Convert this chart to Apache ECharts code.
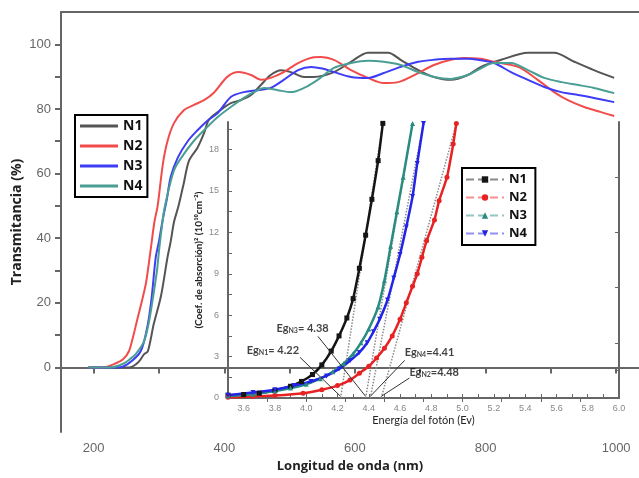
<!DOCTYPE html>
<html>
<head>
<meta charset="utf-8">
<script src="https://cdn.jsdelivr.net/npm/echarts@6/dist/echarts.min.js"></script>
<style>
  html, body { margin: 0; padding: 0; background: #fff; }
  #chart { width: 639px; height: 478px; }
</style>
</head>
<body>
<div id="chart"></div>
<script>
// main plot: transmittance (%) vs wavelength (nm), [nm, %]
const n1Trans = [[192,0],[255,0],[268,1.5],[277,4],[283,5],[292,13.4],[303,22],[313,34],[318,39],[323,45],[330,50],[338,57],[346,64],[359,68],[369,72.5],[376,76.5],[390,79],[410,81.8],[425,82.7],[441,84.3],[456,87.4],[471,90.5],[487,92],[502,91.4],[522,89.9],[537,89.9],[568,91.4],[594,94.6],[620,97.4],[651,97.4],[670,95.2],[697,92],[721,89.9],[747,89],[773,90.5],[793,93],[824,95.2],[865,97.4],[905,97.4],[936,94.6],[966,92],[997,89.6]];
const n2Trans = [[192,0],[215,0],[231,1],[245,2.5],[254,5],[261,10],[267,15],[272,19],[280,26],[287,36],[293,45],[298,50],[306,63],[313,70],[323,75.6],[338,79.6],[353,81.2],[369,82.7],[384,85],[405,90],[422,91.4],[441,90.5],[456,89],[471,89.6],[491,91.4],[513,94.2],[537,96],[548,96.1],[568,95.2],[594,92],[620,89.6],[644,88],[666,88.3],[697,91.1],[721,93.6],[747,95.2],[767,95.8],[793,95.5],[813,94.6],[850,93],[880,89],[905,85.2],[926,82.7],[951,80.6],[977,79],[997,77.8]];
const n3Trans = [[192,0],[238,0],[252,1],[272,5],[283,13.4],[289,22],[295,34],[300,39],[306,46],[312,52],[318,59],[329,65],[344,70],[359,73.4],[375,76.5],[390,78.7],[410,83.7],[430,85.2],[451,85.8],[471,86.5],[491,89],[513,92],[533,93],[550,92.5],[568,91.4],[594,89.9],[620,89.6],[644,91.1],[670,93],[697,94.6],[721,95.2],[747,95.5],[773,95.5],[788,95.2],[813,94.2],[839,91.4],[865,89],[890,86.8],[916,85.2],[942,84.3],[966,83.4],[997,82.1]];
const n4Trans = [[192,0],[226,0],[246,1.2],[257,2.8],[264,4],[277,8],[284,13.4],[290,20.5],[297,30],[300,36],[306,46],[310,50.7],[323,61],[338,66],[353,70],[369,73.4],[390,77.5],[410,80.6],[430,83.4],[445,85.2],[461,86.5],[482,85.8],[502,85.2],[522,86.5],[543,89],[568,92.7],[594,94.2],[620,94.9],[644,94.6],[670,93.6],[697,91.4],[721,89.9],[747,89.3],[773,90.5],[788,92],[813,94.2],[839,94.2],[865,92],[890,89.6],[916,88.3],[942,87.4],[966,86.5],[997,84.9]];

// inset: (absorption coef)^2 vs photon energy (eV), [eV, value]
const n1Abs = [[3.5,0.2],[3.6,0.25],[3.7,0.35],[3.8,0.55],[3.9,0.85],[3.97,1.2],[4.04,1.7],[4.1,2.4],[4.16,3.4],[4.21,4.5],[4.26,5.8],[4.3,7.2],[4.34,9.4],[4.38,11.8],[4.42,14.4],[4.46,17.2],[4.49,19.9]];
const n2Abs = [[3.5,0.05],[3.66,0.1],[3.8,0.18],[3.98,0.35],[4.1,0.6],[4.2,0.9],[4.28,1.3],[4.34,1.8],[4.4,2.3],[4.45,2.9],[4.5,3.6],[4.55,4.5],[4.6,5.7],[4.64,6.9],[4.68,8.1],[4.71,9.0],[4.74,10.2],[4.77,11.4],[4.82,12.9],[4.85,14.3],[4.9,16.0],[4.94,18.4],[4.96,19.9]];
const n3Abs = [[3.5,0.15],[3.66,0.27],[3.8,0.5],[3.9,0.72],[4.0,1.0],[4.09,1.4],[4.17,1.9],[4.24,2.5],[4.3,3.2],[4.35,4.0],[4.4,5.0],[4.46,6.6],[4.5,8.5],[4.54,11.0],[4.58,13.5],[4.62,16.0],[4.68,19.9]];
const n4Abs = [[3.5,0.2],[3.66,0.4],[3.8,0.6],[3.92,0.9],[4.03,1.2],[4.13,1.6],[4.21,2.1],[4.28,2.7],[4.34,3.3],[4.39,4.0],[4.43,4.8],[4.47,5.7],[4.52,7.1],[4.56,8.7],[4.6,10.4],[4.64,12.4],[4.68,14.6],[4.71,17.0],[4.75,19.9]];

// band gaps (tangent intercepts) and where each tangent leaves the top
const egNames = ['N1', 'N2', 'N3', 'N4'];
const egValues = [4.22, 4.48, 4.38, 4.41];
const tangentTopE = [4.49, 4.96, 4.68, 4.75];
const tangentTopY = 19.9;

// tick label lists
const mainXLabels = [200, 400, 600, 800, 1000];
const mainXTicks = [200, 300, 400, 500, 600, 700, 800, 900, 1000];
const mainYLabels = [0, 20, 40, 60, 80, 100];
const mainYTicks = [0, 10, 20, 30, 40, 50, 60, 70, 80, 90, 100];
const insetXLabels = [3.6, 3.8, 4.0, 4.2, 4.4, 4.6, 4.8, 5.0, 5.2, 5.4, 5.6, 5.8, 6.0];
const insetXTicks = [3.5, 3.6, 3.7, 3.8, 3.9, 4.0, 4.1, 4.2, 4.3, 4.4, 4.5, 4.6, 4.7, 4.8, 4.9, 5.0, 5.1, 5.2, 5.3, 5.4, 5.5, 5.6, 5.7, 5.8, 5.9, 6.0];
const insetTopTicks = [3.75, 4.0, 4.25, 4.5, 4.75, 5.0, 5.25, 5.5, 5.75];
const insetYLabels = [0, 3, 6, 9, 12, 15, 18];
const insetYTicks = [0, 1.5, 3, 4.5, 6, 7.5, 9, 10.5, 12, 13.5, 15, 16.5, 18, 19.5];
const insetRightTicks = [2, 4, 8, 12, 16];

// annotation anchors (data units of the inset)
const egLabelAt = [[3.62, 3.46], [4.66, 1.86], [3.81, 5.05], [4.63, 3.3]];
const egArrowFrom = [[3.96, 2.95], [4.66, 1.45], [4.075, 4.47], [4.63, 2.73]];

const mainColors = ['#555555', '#f24b4b', '#3d3df5', '#4a9e94'];
const insetColors = ['#151515', '#e82222', '#2a8c80', '#2424e6'];
const insetSymbols = ['rect', 'circle', 'triangle', 'path://M0,0 L10,0 L5,9 Z'];

const axisGray = '#666';
const tickFont = 'Liberation Sans, Arial, sans-serif';

const chart = echarts.init(document.getElementById('chart'));

const mainSeries = [n1Trans, n2Trans, n3Trans, n4Trans].map((d, i) => ({
  name: egNames[i], type: 'line', xAxisIndex: 0, yAxisIndex: 0,
  data: d, symbol: 'none', smooth: 0.3,
  lineStyle: { width: 2, color: mainColors[i] }, itemStyle: { color: mainColors[i] }
}));

const insetSeries = [n1Abs, n2Abs, n3Abs, n4Abs].map((d, i) => ({
  name: egNames[i] + ' ', type: 'line', xAxisIndex: 2, yAxisIndex: 1,
  data: d, symbol: insetSymbols[i], symbolSize: 5, showSymbol: true, smooth: 0.2,
  lineStyle: { width: 2.5, color: insetColors[i] }, itemStyle: { color: insetColors[i] }, z: 4
}));

const tangentSeries = egValues.map((eg, i) => ({
  name: 'tan' + i, type: 'line', xAxisIndex: 2, yAxisIndex: 1,
  data: [[eg, 0], [tangentTopE[i], tangentTopY]], symbol: 'none', silent: true,
  lineStyle: { width: 1.5, color: '#8a8a8a', type: 'dotted' }, z: 3
}));

const arrowSeries = {
  name: 'arrows', type: 'line', xAxisIndex: 2, yAxisIndex: 1, data: [], silent: true,
  markLine: {
    silent: true, symbol: ['none', 'arrow'], symbolSize: [0, 6],
    label: { show: false },
    lineStyle: { color: '#333', width: 1, type: 'solid' },
    data: egArrowFrom.map((p, i) => [{ coord: p }, { coord: [egValues[i], 0.12] }])
  }
};

const labelSeries = {
  name: 'eglabels', type: 'scatter', xAxisIndex: 2, yAxisIndex: 1, symbolSize: 0, silent: true, z: 6,
  data: egLabelAt.map((p, i) => ({
    value: p,
    label: {
      show: true, position: 'right', distance: 0,
      formatter: '{a|Eg}{s|' + egNames[i] + '}{a|' + (i === 0 || i === 2 ? '= ' : '=') + egValues[i].toFixed(2) + '}',
      rich: {
        a: { fontSize: 11, fontWeight: 'bold', color: '#111', fontFamily: 'Lato' },
        s: { fontSize: 7, fontWeight: 'bold', color: '#111', fontFamily: 'Lato', verticalAlign: 'bottom', lineHeight: 8 }
      }
    }
  }))
};

chart.setOption({
  animation: false,
  backgroundColor: '#fff',
  grid: [
    { left: 61, top: 12, right: 0, bottom: 46 },
    { left: 228, top: 122, right: 20, bottom: 80, show: true, backgroundColor: '#fff', borderWidth: 0 }
  ],
  legend: [
    {
      data: egNames, orient: 'vertical', left: 75, top: 115,
      borderColor: '#000', borderWidth: 2, padding: [4, 5, 4, 5],
      icon: 'rect', itemWidth: 38, itemHeight: 3, itemGap: 6,
      textStyle: { fontSize: 14, fontWeight: 'bold', color: '#111', fontFamily: 'Open Sans', lineHeight: 14 }
    },
    {
      data: egNames.map(n => n + ' '), orient: 'vertical', left: 462, top: 168,
      borderColor: '#000', borderWidth: 2, padding: [5, 5, 5, 3],
      itemWidth: 38, itemHeight: 8, itemGap: 5,
      lineStyle: { type: 'dashed', width: 2, opacity: 0.5 },
      textStyle: { fontSize: 13, fontWeight: 'bold', color: '#111', fontFamily: 'Open Sans' }
    }
  ],
  xAxis: [
    {
      gridIndex: 0, type: 'value', min: 150, max: 1035, position: 'bottom',
      axisLine: { lineStyle: { color: axisGray, width: 2 } },
      axisTick: { show: true, customValues: mainXTicks, length: 6, lineStyle: { color: axisGray, width: 2 } },
      axisLabel: { customValues: mainXLabels, formatter: v => String(v), color: '#666', fontSize: 13, margin: 10, fontFamily: tickFont },
      splitLine: { show: false },
      name: 'Longitud de onda (nm)', nameLocation: 'middle', nameGap: 28, nameMoveOverlap: false,
      nameTextStyle: { fontSize: 13, fontWeight: 'bold', color: '#222', fontFamily: 'Open Sans' }
    },
    {
      gridIndex: 0, type: 'value', min: 150, max: 1035, position: 'top',
      axisLine: { lineStyle: { color: axisGray, width: 2 } },
      axisTick: { show: false }, axisLabel: { show: false }, splitLine: { show: false }
    },
    {
      gridIndex: 1, type: 'value', min: 3.5, max: 6.0, position: 'bottom',
      axisLine: { lineStyle: { color: axisGray, width: 2 } },
      axisTick: { show: true, inside: true, customValues: insetXTicks, length: 4, lineStyle: { color: axisGray, width: 1 } },
      axisLabel: { customValues: insetXLabels, formatter: v => v.toFixed(1), color: '#888', fontSize: 9, margin: 6, fontFamily: tickFont },
      splitLine: { show: false },
      name: 'Energía del fotón (Ev)', nameLocation: 'middle', nameGap: 17, nameMoveOverlap: false,
      nameTextStyle: { fontSize: 11, color: '#222', fontFamily: 'Lato' }
    },
    {
      gridIndex: 1, type: 'value', min: 3.5, max: 6.0, position: 'top',
      axisLine: { lineStyle: { color: axisGray, width: 2 } },
      axisTick: { show: true, inside: true, customValues: insetTopTicks, length: 4, lineStyle: { color: axisGray, width: 1 } },
      axisLabel: { show: false }, splitLine: { show: false }
    }
  ],
  yAxis: [
    {
      gridIndex: 0, type: 'value', min: -20, max: 110,
      axisLine: { show: true, lineStyle: { color: axisGray, width: 2 } },
      axisTick: { show: true, customValues: mainYTicks, length: 6, lineStyle: { color: axisGray, width: 2 } },
      axisLabel: { customValues: mainYLabels, color: '#666', fontSize: 13, margin: 10, fontFamily: tickFont },
      splitLine: { show: false },
      name: 'Transmitancia (%)', nameLocation: 'middle', nameGap: 37, nameMoveOverlap: false,
      nameTextStyle: { fontSize: 14, fontWeight: 'bold', color: '#222', fontFamily: 'Open Sans' }
    },
    {
      gridIndex: 1, type: 'value', min: 0, max: 20, position: 'left',
      axisLine: { show: true, lineStyle: { color: axisGray, width: 2 } },
      axisTick: { show: true, inside: true, customValues: insetYTicks, length: 4, lineStyle: { color: axisGray, width: 1 } },
      axisLabel: { customValues: insetYLabels, color: '#888', fontSize: 9, margin: 9, fontFamily: tickFont },
      splitLine: { show: false },
      name: '(Coef. de absorción)² (10¹⁰cm⁻²)', nameLocation: 'middle', nameGap: 24, nameMoveOverlap: false,
      nameTextStyle: { fontSize: 10, fontWeight: 'bold', color: '#222', fontFamily: 'Lato' }
    },
    {
      gridIndex: 1, type: 'value', min: 0, max: 20, position: 'right',
      axisLine: { show: true, lineStyle: { color: axisGray, width: 2 } },
      axisTick: { show: true, inside: true, customValues: insetRightTicks, length: 4, lineStyle: { color: axisGray, width: 1 } },
      axisLabel: { show: false }, splitLine: { show: false }
    }
  ],
  series: [...mainSeries, ...tangentSeries, ...insetSeries, arrowSeries, labelSeries]
});
</script>
</body>
</html>
